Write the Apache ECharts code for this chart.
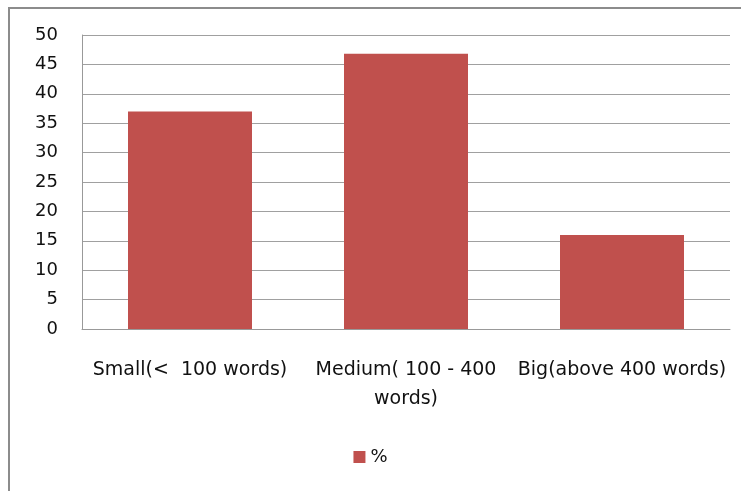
<!DOCTYPE html>
<html>
<head>
    <meta charset="utf-8">
    <title>ECharts</title>
    <script src="https://cdn.jsdelivr.net/npm/echarts@6/dist/echarts.min.js"></script>
    <style>
    *{margin:0px; padding:0px;}
    body{background:#fff;}
    #main{width:741px; height:491px;}
    </style>
</head>
<body>
    <div id="main"></div>
    <script type="text/javascript">
        var categories = ['Small(<  100 words)', 'Medium( 100 - 400\nwords)', 'Big(above 400 words)'];
        var percent = [37, 46.8, 16];
        var yTicks = { min: 0, max: 50, interval: 5 };

        var myChart = echarts.init(document.getElementById('main'));
        var font = 'DejaVu Sans';

        var option = {
            animation: false,
            backgroundColor: '#fff',
            graphic: [{
                type: 'rect',
                shape: { x: 9, y: 8, width: 800, height: 600 },
                style: { fill: 'none', stroke: '#8c8c8c', lineWidth: 2 },
                silent: true
            }],
            grid: { left: 82, right: 11, top: 35, bottom: 162 },
            legend: {
                data: ['%'],
                bottom: 20,
                left: 'center',
                icon: 'rect',
                itemWidth: 12,
                itemHeight: 12,
                itemGap: 6,
                textStyle: { fontFamily: font, fontSize: 18, color: '#111' }
            },
            xAxis: {
                type: 'category',
                data: categories,
                axisTick: { show: false },
                axisLine: { lineStyle: { color: '#999', width: 1 } },
                axisLabel: {
                    interval: 0,
                    margin: 27,
                    fontFamily: font,
                    fontSize: 19,
                    lineHeight: 29,
                    color: '#111'
                }
            },
            yAxis: {
                type: 'value',
                min: yTicks.min,
                max: yTicks.max,
                interval: yTicks.interval,
                axisLine: { show: true, lineStyle: { color: '#999', width: 1 } },
                axisTick: { show: false },
                splitLine: { lineStyle: { color: '#a0a0a0', width: 1 } },
                axisLabel: {
                    margin: 24,
                    fontFamily: font,
                    fontSize: 18,
                    color: '#111'
                }
            },
            series: [{
                name: '%',
                type: 'bar',
                data: percent,
                barWidth: 124,
                itemStyle: { color: '#C0504D' }
            }]
        };

        myChart.setOption(option);
    </script>
</body>
</html>
